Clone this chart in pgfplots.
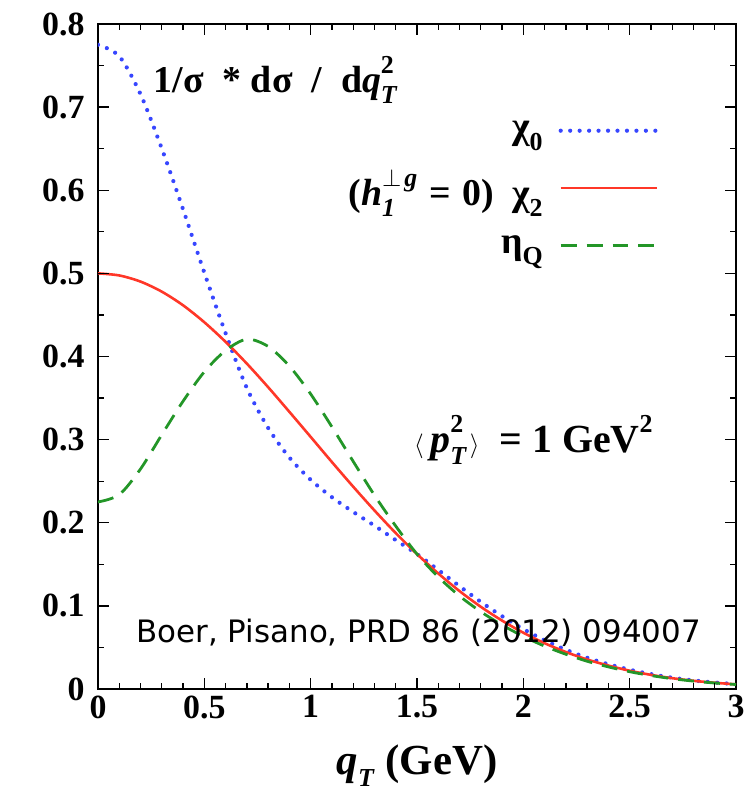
\documentclass[border=0pt]{standalone}
\usepackage{fontspec}
\setmainfont{Liberation Serif}
\newfontfamily\djv{DejaVu Sans}
\usepackage{pgfplots}
\pgfplotsset{compat=1.18}
\definecolor{cblue}{RGB}{55,70,255}
\definecolor{cred}{RGB}{255,55,40}
\definecolor{cgreen}{RGB}{35,150,40}
\newcommand\lo[1]{\raisebox{-0.3em}{\fontsize{26}{26}\selectfont #1}}
\newcommand\hi[1]{\raisebox{0.5em}{\fontsize{26}{26}\selectfont #1}}
\pgfplotstableread{
q chi0 chi2 eta
0.0 0.7750 0.5000 0.2250
0.1 0.7612 0.4975 0.2338
0.2 0.7155 0.4901 0.2647
0.3 0.6501 0.4780 0.3059
0.4 0.5770 0.4616 0.3462
0.5 0.5008 0.4412 0.3816
0.6 0.4280 0.4176 0.4072
0.7 0.3620 0.3914 0.4208
0.8 0.3141 0.3631 0.4121
0.9 0.2784 0.3334 0.3884
1.0 0.2517 0.3033 0.3549
1.1 0.2307 0.2730 0.3153
1.2 0.2130 0.2434 0.2738
1.3 0.1965 0.2148 0.2331
1.4 0.1792 0.1876 0.1960
1.5 0.1623 0.1623 0.1623
1.6 0.1432 0.1390 0.1348
1.7 0.1237 0.1178 0.1119
1.8 0.1048 0.0989 0.0930
1.9 0.0876 0.0823 0.0770
2.0 0.0721 0.0677 0.0633
2.1 0.0586 0.0551 0.0516
2.2 0.0472 0.0445 0.0418
2.3 0.0376 0.0355 0.0334
2.4 0.0298 0.0282 0.0266
2.5 0.0232 0.0220 0.0208
2.6 0.0179 0.0170 0.0162
2.7 0.0136 0.0130 0.0124
2.8 0.0103 0.0099 0.0095
2.9 0.0078 0.0075 0.0072
3.0 0.0058 0.0056 0.0054
}\data
\begin{document}
\begin{tikzpicture}
\begin{axis}[name=ax,
  scale only axis, width=638bp, height=665bp,
  xmin=0, xmax=3, ymin=0, ymax=0.8,
  unbounded coords=jump,
  axis line style={line width=1.6pt},
  xtick={0,0.5,1,1.5,2,2.5,3},
  xticklabels={0,0.5,1,1.5,2,2.5,3},
  ytick={0,0.1,0.2,0.3,0.4,0.5,0.6,0.7,0.8},
  yticklabels={0,0.1,0.2,0.3,0.4,0.5,0.6,0.7,0.8},
  minor x tick num=4, minor y tick num=1,
  tick align=inside,
  major tick length=11pt, minor tick length=6pt,
  every tick/.append style={black, line width=1.3pt},
  tick label style={font=\bfseries\fontsize{34}{34}\selectfont},
  xticklabel style={yshift=-3pt},
  yticklabel style={xshift=-10pt},
  xlabel={\textit{q}\lo{\textit{T}} (GeV)},
  xlabel style={font=\bfseries\fontsize{43}{44}\selectfont, yshift=-19pt},
  legend style={draw=none, fill=none, at={(rel axis cs:0.885,0.86)}, anchor=north east,
    font=\bfseries\fontsize{38}{40}\selectfont, row sep=25pt},
  legend cell align=right,
  legend plot pos=right,
  legend image code/.code={\draw[#1] (0pt,0pt) -- (97pt,0pt);},
]
\addplot[cblue, line width=4.2pt, line cap=round, dash pattern=on 0pt off 9.5pt, smooth] table[x=q,y=chi0] {\data};
\addlegendentry{χ\lo{0}\kern14pt\rule{0pt}{1pt}}
\addplot[cred, line width=2.6pt, smooth] table[x=q,y=chi2] {\data};
\addlegendentry{(\textit{h}\makebox[0pt][l]{\lo{\textit{1}}}\hi{$\perp$\kern3pt\textit{g}}\kern12pt=\kern12pt0)\kern18ptχ\lo{2}\kern14pt\rule{0pt}{1pt}}
\addplot[cgreen, line width=2.8pt, dash pattern=on 16pt off 10pt, smooth] table[x=q,y=eta] {\data};
\addlegendentry{η\lo{Q}\kern14pt\rule{0pt}{1pt}}
% tick marks drawn as short segments (bottom/left via comb, top/right via jumps)
\addplot[ycomb, black, line width=1.3pt, no markers, forget plot] coordinates {
(0.1,0.0072) (0.2,0.0072) (0.3,0.0072) (0.4,0.0072) (0.5,0.0132) (0.6,0.0072) (0.7,0.0072) (0.8,0.0072) (0.9,0.0072) (1.0,0.0132)
(1.1,0.0072) (1.2,0.0072) (1.3,0.0072) (1.4,0.0072) (1.5,0.0132) (1.6,0.0072) (1.7,0.0072) (1.8,0.0072) (1.9,0.0072) (2.0,0.0132)
(2.1,0.0072) (2.2,0.0072) (2.3,0.0072) (2.4,0.0072) (2.5,0.0132) (2.6,0.0072) (2.7,0.0072) (2.8,0.0072) (2.9,0.0072)};
\addplot[xcomb, black, line width=1.3pt, no markers, forget plot] coordinates {
(0.0282,0.05) (0.0515,0.1) (0.0282,0.15) (0.0515,0.2) (0.0282,0.25) (0.0515,0.3) (0.0282,0.35) (0.0515,0.4)
(0.0282,0.45) (0.0515,0.5) (0.0282,0.55) (0.0515,0.6) (0.0282,0.65) (0.0515,0.7) (0.0282,0.75)};
\addplot[black, line width=1.3pt, no markers, forget plot] coordinates {
(0.1,0.8) (0.1,0.7928) (0.1,nan) (0.2,0.8) (0.2,0.7928) (0.2,nan) (0.3,0.8) (0.3,0.7928) (0.3,nan) (0.4,0.8) (0.4,0.7928) (0.4,nan)
(0.5,0.8) (0.5,0.7868) (0.5,nan)
(0.6,0.8) (0.6,0.7928) (0.6,nan) (0.7,0.8) (0.7,0.7928) (0.7,nan) (0.8,0.8) (0.8,0.7928) (0.8,nan) (0.9,0.8) (0.9,0.7928) (0.9,nan)
(1.0,0.8) (1.0,0.7868) (1.0,nan)
(1.1,0.8) (1.1,0.7928) (1.1,nan) (1.2,0.8) (1.2,0.7928) (1.2,nan) (1.3,0.8) (1.3,0.7928) (1.3,nan) (1.4,0.8) (1.4,0.7928) (1.4,nan)
(1.5,0.8) (1.5,0.7868) (1.5,nan)
(1.6,0.8) (1.6,0.7928) (1.6,nan) (1.7,0.8) (1.7,0.7928) (1.7,nan) (1.8,0.8) (1.8,0.7928) (1.8,nan) (1.9,0.8) (1.9,0.7928) (1.9,nan)
(2.0,0.8) (2.0,0.7868) (2.0,nan)
(2.1,0.8) (2.1,0.7928) (2.1,nan) (2.2,0.8) (2.2,0.7928) (2.2,nan) (2.3,0.8) (2.3,0.7928) (2.3,nan) (2.4,0.8) (2.4,0.7928) (2.4,nan)
(2.5,0.8) (2.5,0.7868) (2.5,nan)
(2.6,0.8) (2.6,0.7928) (2.6,nan) (2.7,0.8) (2.7,0.7928) (2.7,nan) (2.8,0.8) (2.8,0.7928) (2.8,nan) (2.9,0.8) (2.9,0.7928)};
\addplot[black, line width=1.3pt, no markers, forget plot] coordinates {
(3,0.05) (2.9718,0.05) (nan,0.05) (3,0.1) (2.9485,0.1) (nan,0.1) (3,0.15) (2.9718,0.15) (nan,0.15) (3,0.2) (2.9485,0.2) (nan,0.2)
(3,0.25) (2.9718,0.25) (nan,0.25) (3,0.3) (2.9485,0.3) (nan,0.3) (3,0.35) (2.9718,0.35) (nan,0.35) (3,0.4) (2.9485,0.4) (nan,0.4)
(3,0.45) (2.9718,0.45) (nan,0.45) (3,0.5) (2.9485,0.5) (nan,0.5) (3,0.55) (2.9718,0.55) (nan,0.55) (3,0.6) (2.9485,0.6) (nan,0.6)
(3,0.65) (2.9718,0.65) (nan,0.65) (3,0.7) (2.9485,0.7) (nan,0.7) (3,0.75) (2.9718,0.75)};
\node[anchor=west, font=\bfseries\fontsize{38}{40}\selectfont] at (axis cs:0.245,0.733) {1/σ\ \ *\ dσ\ \ /\ \ d\textit{q}\makebox[0pt][l]{\lo{\textit{T}}}\hi{2}};
\node[anchor=west, font=\bfseries\fontsize{40}{42}\selectfont] at (axis cs:1.47,0.30) {$\langle$\,\textit{p}\makebox[0pt][l]{\lo{\textit{T}}}\hi{2}\,$\rangle$\ \ =\ 1 GeV\hi{2}};
\node[anchor=base west, font=\djv\fontsize{31}{36}\selectfont, inner sep=0pt] at (axis cs:0.18,0.0554) {Boer, Pisano, PRD 86 (2012) 094007};
\end{axis}
\pgfresetboundingbox
\path[use as bounding box] ([xshift=-98bp,yshift=-102bp]ax.south west) rectangle ([xshift=20bp,yshift=24bp]ax.north east);
\end{tikzpicture}
\end{document}
